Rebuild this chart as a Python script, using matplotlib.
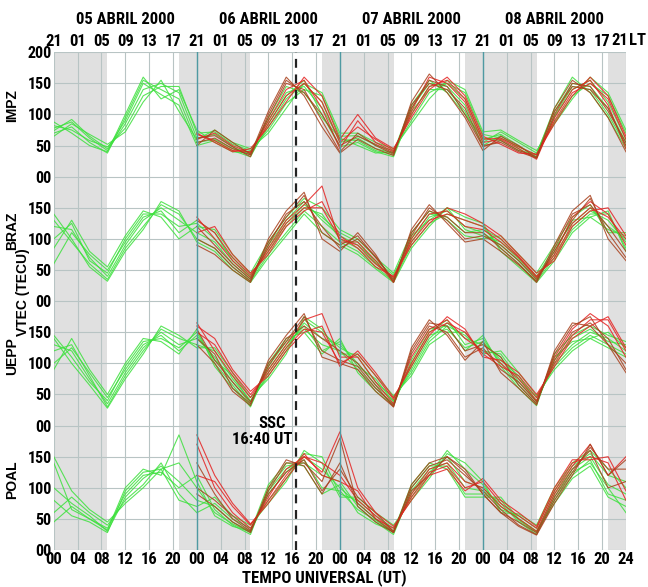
import numpy as np
import matplotlib
matplotlib.use("Agg")
import matplotlib.pyplot as plt
import matplotlib.font_manager as fm

# pick a narrow bold face if one is installed
names = {f.name for f in fm.fontManager.ttflist}
fam, stretch, fs = 'DejaVu Sans', 'normal', 10
for n in ['Liberation Sans Narrow', 'Arial Narrow', 'Roboto Condensed', 'Open Sans Condensed', 'DejaVu Sans Condensed']:
    if n in names:
        fam, stretch, fs = n, 'condensed', 12
        break
else:
    if any(f.name == 'DejaVu Sans' and f.stretch == 'condensed' for f in fm.fontManager.ttflist):
        fam, stretch, fs = 'DejaVu Sans', 'condensed', 11
plt.rcParams['font.family'] = [fam, 'DejaVu Sans']
plt.rcParams['font.stretch'] = stretch

# --- data (TEC in TECU) ---
stations = ["IMPZ", "BRAZ", "UEPP", "POAL"]
days = ["05 ABRIL 2000", "06 ABRIL 2000", "07 ABRIL 2000", "08 ABRIL 2000"]
t_green = list(range(0, 97, 3))   # UT hours, 05-08 April
t_red = list(range(24, 97, 3))    # UT hours, 06-08 April

impz_green = [
    [78, 88, 62, 42, 85, 140, 150, 135, 62, 68, 48, 35, 80, 125, 150, 120, 55, 62, 45, 38, 100, 145, 150, 125, 60, 68, 50, 32, 95, 140, 155, 120, 60],
    [70, 80, 55, 38, 95, 155, 140, 125, 55, 60, 45, 40, 90, 135, 145, 110, 60, 58, 42, 35, 110, 150, 145, 115, 55, 72, 55, 38, 105, 150, 145, 110, 55],
    [82, 75, 58, 48, 78, 130, 145, 145, 70, 72, 52, 42, 75, 118, 140, 130, 65, 66, 50, 42, 90, 135, 150, 135, 68, 62, 48, 35, 88, 130, 150, 130, 70],
    [74, 92, 65, 45, 90, 150, 132, 115, 50, 58, 42, 32, 85, 130, 155, 100, 48, 55, 40, 32, 105, 140, 140, 105, 50, 66, 45, 30, 98, 145, 140, 100, 50],
    [88, 70, 50, 40, 100, 160, 125, 140, 75, 55, 40, 38, 95, 145, 135, 95, 62, 50, 38, 40, 115, 155, 135, 100, 62, 58, 42, 36, 110, 160, 135, 95, 45],
    [65, 85, 68, 52, 72, 120, 155, 105, 60, 75, 55, 45, 70, 110, 150, 135, 70, 70, 55, 45, 85, 125, 155, 140, 72, 75, 58, 42, 85, 125, 160, 135, 75],
]
impz_red = [
    [60, 70, 50, 38, 90, 140, 155, 110, 45, 90, 55, 40, 105, 160, 150, 120, 55, 60, 45, 28, 95, 140, 155, 115, 45],
    [55, 62, 45, 35, 95, 150, 140, 90, 40, 70, 50, 36, 115, 150, 140, 110, 50, 55, 40, 30, 100, 150, 145, 105, 55],
    [68, 58, 42, 40, 85, 130, 150, 120, 55, 80, 60, 42, 100, 145, 155, 125, 60, 62, 48, 35, 90, 135, 150, 125, 60],
    [62, 66, 48, 32, 100, 155, 135, 100, 50, 65, 52, 38, 110, 155, 145, 100, 48, 58, 42, 32, 105, 145, 140, 110, 50],
    [70, 55, 40, 45, 80, 120, 160, 130, 60, 100, 62, 45, 95, 140, 160, 130, 65, 52, 38, 36, 85, 130, 160, 130, 65],
    [50, 75, 55, 36, 105, 160, 130, 80, 38, 60, 45, 34, 120, 165, 135, 95, 42, 65, 50, 30, 110, 155, 135, 95, 40],
]
braz_green = [
    [120, 115, 70, 40, 90, 130, 150, 130, 110, 95, 60, 35, 80, 120, 150, 140, 100, 85, 60, 35, 95, 135, 145, 120, 110, 90, 65, 35, 75, 120, 145, 130, 95],
    [100, 125, 65, 45, 100, 140, 140, 120, 125, 100, 70, 40, 90, 130, 160, 130, 105, 90, 65, 42, 100, 140, 135, 110, 115, 100, 70, 40, 85, 125, 150, 120, 100],
    [130, 95, 60, 35, 85, 120, 155, 140, 100, 85, 55, 32, 75, 110, 145, 120, 95, 80, 55, 32, 90, 125, 140, 130, 120, 85, 60, 32, 70, 115, 140, 140, 85],
    [60, 110, 75, 50, 95, 135, 145, 110, 130, 110, 65, 38, 85, 125, 155, 135, 110, 95, 62, 38, 105, 130, 150, 115, 105, 95, 68, 38, 80, 130, 135, 115, 105],
    [140, 100, 55, 32, 80, 115, 160, 145, 95, 80, 50, 30, 70, 105, 140, 110, 90, 75, 52, 30, 85, 120, 150, 135, 125, 80, 55, 30, 65, 110, 135, 145, 80],
    [85, 130, 80, 55, 105, 145, 135, 100, 120, 115, 75, 45, 95, 135, 165, 150, 115, 100, 70, 45, 110, 145, 130, 105, 100, 105, 75, 45, 90, 135, 155, 110, 110],
]
braz_red = [
    [135, 100, 65, 38, 85, 130, 155, 185, 95, 95, 65, 30, 100, 140, 145, 120, 115, 95, 70, 38, 75, 135, 160, 140, 90],
    [120, 90, 60, 35, 95, 135, 170, 110, 90, 105, 70, 35, 110, 145, 135, 110, 110, 85, 60, 30, 85, 140, 155, 120, 80],
    [130, 110, 70, 42, 80, 125, 150, 150, 100, 90, 60, 38, 95, 130, 140, 130, 120, 100, 72, 40, 70, 125, 150, 135, 100],
    [100, 85, 55, 32, 90, 140, 160, 120, 85, 100, 72, 32, 105, 150, 130, 100, 105, 90, 65, 35, 80, 130, 165, 110, 70],
    [110, 120, 75, 45, 75, 120, 145, 160, 105, 85, 55, 40, 90, 125, 150, 140, 125, 105, 75, 45, 65, 120, 145, 150, 105],
    [90, 75, 50, 30, 100, 145, 175, 100, 80, 110, 75, 30, 115, 155, 125, 95, 100, 80, 58, 32, 90, 145, 170, 100, 65],
]
uepp_green = [
    [130, 120, 75, 35, 85, 125, 150, 130, 140, 110, 70, 35, 85, 125, 165, 140, 130, 100, 65, 40, 90, 140, 165, 140, 130, 110, 70, 40, 100, 130, 150, 140, 120],
    [145, 110, 70, 40, 95, 135, 140, 125, 150, 100, 65, 30, 95, 135, 155, 130, 120, 90, 60, 35, 100, 150, 170, 130, 140, 100, 65, 35, 110, 135, 140, 150, 125],
    [120, 130, 80, 30, 80, 120, 155, 140, 130, 120, 75, 40, 80, 120, 170, 150, 125, 110, 70, 45, 85, 135, 160, 145, 120, 115, 75, 45, 95, 125, 145, 130, 115],
    [100, 125, 85, 45, 90, 130, 145, 120, 145, 105, 80, 38, 90, 130, 160, 120, 135, 95, 75, 38, 95, 145, 155, 125, 135, 105, 80, 38, 105, 140, 155, 135, 130],
    [140, 100, 65, 28, 75, 115, 160, 145, 125, 125, 85, 45, 75, 115, 175, 155, 115, 115, 80, 48, 80, 130, 150, 150, 115, 120, 85, 48, 90, 120, 140, 125, 110],
    [90, 140, 90, 50, 100, 140, 135, 115, 155, 95, 60, 32, 100, 140, 150, 115, 140, 85, 55, 32, 105, 155, 160, 120, 145, 95, 60, 32, 115, 145, 160, 145, 135],
]
uepp_red = [
    [165, 120, 80, 45, 90, 130, 170, 180, 110, 110, 70, 35, 110, 155, 170, 140, 120, 100, 75, 40, 110, 155, 180, 160, 110],
    [155, 105, 70, 38, 95, 140, 160, 140, 120, 100, 65, 30, 120, 165, 160, 120, 130, 110, 65, 35, 115, 160, 175, 130, 100],
    [150, 130, 85, 50, 85, 125, 155, 150, 100, 115, 80, 42, 100, 150, 165, 150, 115, 95, 80, 45, 100, 145, 170, 170, 120],
    [140, 115, 60, 35, 100, 135, 175, 120, 105, 95, 60, 33, 115, 160, 150, 110, 125, 90, 70, 38, 105, 150, 165, 140, 90],
    [160, 140, 90, 55, 80, 120, 150, 160, 95, 120, 85, 45, 95, 145, 175, 155, 110, 105, 85, 50, 95, 140, 160, 175, 125],
    [130, 100, 55, 32, 105, 145, 180, 110, 100, 90, 55, 30, 125, 170, 145, 105, 135, 85, 60, 33, 120, 165, 160, 130, 85],
]
poal_green = [
    [100, 75, 55, 30, 85, 115, 135, 110, 80, 70, 45, 30, 90, 125, 150, 130, 100, 75, 50, 30, 90, 125, 150, 110, 100, 70, 50, 30, 90, 130, 150, 105, 90],
    [140, 65, 50, 35, 90, 120, 125, 100, 120, 65, 40, 25, 100, 135, 140, 120, 110, 70, 45, 25, 95, 130, 140, 100, 95, 75, 45, 25, 85, 125, 140, 100, 60],
    [60, 85, 60, 40, 80, 105, 140, 90, 60, 75, 50, 35, 80, 115, 155, 150, 90, 80, 55, 35, 85, 120, 160, 130, 105, 65, 55, 35, 95, 135, 155, 120, 110],
    [80, 55, 45, 28, 95, 125, 130, 140, 100, 60, 42, 28, 95, 130, 145, 100, 95, 65, 48, 28, 100, 135, 135, 90, 90, 80, 48, 28, 80, 120, 145, 90, 80],
    [150, 95, 65, 45, 75, 100, 130, 80, 70, 85, 55, 40, 75, 110, 160, 140, 85, 85, 60, 40, 80, 115, 155, 140, 110, 60, 58, 40, 100, 140, 160, 130, 100],
    [45, 70, 50, 32, 100, 130, 120, 185, 110, 55, 38, 30, 105, 140, 135, 90, 105, 60, 42, 30, 105, 140, 130, 85, 85, 85, 50, 30, 75, 115, 135, 85, 70],
]
poal_red = [
    [170, 100, 60, 35, 85, 130, 150, 140, 120, 80, 55, 30, 90, 130, 140, 110, 100, 70, 50, 30, 90, 135, 170, 120, 150],
    [140, 90, 50, 30, 95, 140, 140, 110, 180, 70, 45, 28, 95, 120, 150, 130, 90, 60, 45, 28, 85, 130, 160, 100, 110],
    [120, 110, 70, 40, 80, 120, 155, 120, 110, 95, 50, 35, 85, 125, 135, 100, 110, 75, 55, 35, 95, 140, 150, 140, 80],
    [100, 80, 55, 32, 90, 125, 145, 95, 130, 85, 60, 30, 100, 135, 145, 120, 95, 65, 40, 25, 80, 125, 165, 130, 130],
    [185, 120, 75, 42, 75, 115, 150, 125, 190, 100, 60, 38, 80, 120, 130, 95, 115, 80, 60, 38, 100, 145, 145, 150, 95],
    [90, 70, 45, 28, 100, 145, 135, 90, 140, 75, 50, 28, 105, 140, 150, 125, 90, 60, 38, 24, 75, 120, 170, 120, 145],
]
green_sets = [impz_green, braz_green, uepp_green, poal_green]
red_sets = [impz_red, braz_red, uepp_red, poal_red]

ssc_ut = 24 + 16 + 40 / 60.0
night = [(0, 9), (21, 33), (45, 57), (69, 81), (93, 96)]

fig = plt.figure(figsize=(6.48, 5.87), dpi=100)
ax = fig.add_axes([0.083, 0.063, 0.883, 0.848])

for a, b in night:
    ax.axvspan(a, b, color='#e0e0e0', lw=0, zorder=0)

# grid
for x in range(0, 97, 4):
    ax.axvline(x, color='#b8c4c4', lw=0.8, zorder=1)
for y in range(0, 801, 50):
    ax.axhline(y, color='#b8c4c4', lw=0.8, zorder=1)
for x in (24, 48, 72):
    ax.axvline(x, color='#4f9aa2', lw=1.0, zorder=3)

# curves: each station sits on its own 200-TECU band
for k in range(4):
    off = (3 - k) * 200
    for c in green_sets[k]:
        ax.plot(t_green, np.array(c) + off, color='#3ee03e', lw=0.8, alpha=0.85, zorder=2)
    for i, c in enumerate(red_sets[k]):
        col = '#e52222' if i % 2 == 0 else '#a8401c'
        ax.plot(t_red, np.array(c) + off, color=col, lw=0.8, alpha=0.85, zorder=2)

ax.axvline(ssc_ut, color='#222222', lw=1.6, ls=(0, (4, 3)), zorder=4)
ax.text(36.6, 203, "SSC", ha='center', va='center', fontsize=fs, fontweight='bold', zorder=5)
ax.text(40.1, 177, "16:40 UT", ha='right', va='center', fontsize=fs, fontweight='bold', zorder=5)

ax.set_xlim(0, 96)
ax.set_ylim(0, 800)
for s in ax.spines.values():
    s.set_visible(False)

ax.set_xticks(range(0, 97, 4))
ax.set_xticklabels(["%02d" % (h % 24) for h in range(0, 96, 4)] + ["24"],
                   fontsize=fs, fontweight='bold')
yt = list(range(0, 801, 50))
ylab = []
for y in yt[:-1]:
    v = y % 200
    ylab.append("00" if v == 0 else str(v))
ylab.append("200")
ax.set_yticks(yt)
ax.set_yticklabels(ylab, fontsize=fs - 0.5, fontweight='bold')
ax.tick_params(length=0, pad=1.5)

# local time on top (LT = UT - 3)
top = ax.secondary_xaxis('top')
top.set_xticks(range(0, 96, 4))
top.set_xticklabels(["%02d" % ((h - 3) % 24) for h in range(0, 96, 4)],
                    fontsize=fs, fontweight='bold')
top.tick_params(length=0, pad=2)
for s in top.spines.values():
    s.set_visible(False)
ax.text(95.0, 807, "21", ha='center', va='bottom', fontsize=fs, fontweight='bold')
ax.text(96.5, 807, "LT", ha='left', va='bottom', fontsize=fs, fontweight='bold')

for d, lab in enumerate(days):
    ax.text(12 + 24 * d, 852, lab, ha='center', va='center', fontsize=fs, fontweight='bold')

fig.text(0.5, 0.016, "TEMPO UNIVERSAL (UT)", ha='center', va='center', fontsize=fs, fontweight='bold')

side = ['Liberation Sans', 'DejaVu Sans']
ylab_pos = [0.821, 0.606, 0.394, 0.183]
for name, yp in zip(stations, ylab_pos):
    fig.text(0.019, yp, name, rotation=90, ha='center', va='center', fontsize=10,
             fontweight='bold', family=side, stretch='normal')
fig.text(0.036, 0.502, "VTEC (TECU)", rotation=90, ha='center', va='center', fontsize=10,
         fontweight='bold', family=side, stretch='normal')

fig.savefig("out.png", dpi=100)
